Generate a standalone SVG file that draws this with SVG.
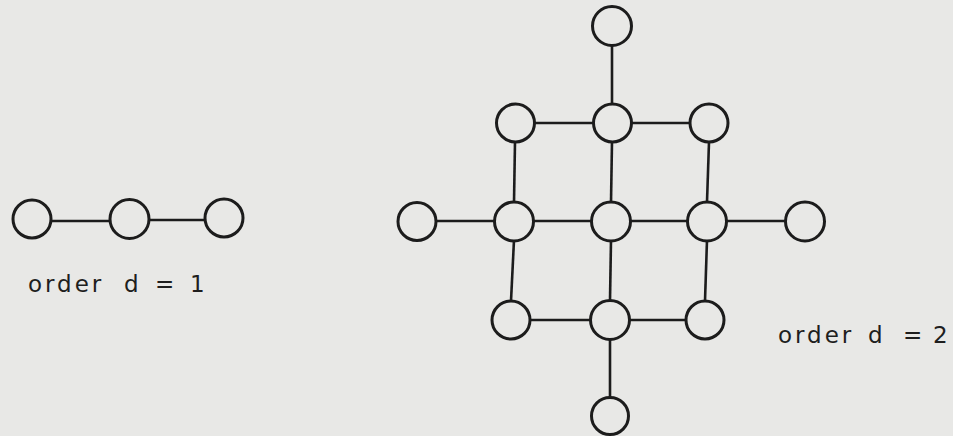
<svg xmlns="http://www.w3.org/2000/svg" width="953" height="436" viewBox="0 0 953 436">
<style>
.n{fill:none;stroke:#1c1c1c;stroke-width:3}
.e{stroke:#1c1c1c;stroke-width:2.6;fill:none}
.t{font-family:"DejaVu Sans",sans-serif;font-size:23px;fill:#1e1e1e;letter-spacing:3px}
</style>
<rect width="953" height="436" fill="#e8e8e6"/>
<g id="connectors">
<line class="e" x1="51" y1="221" x2="110" y2="221"/>
<line class="e" x1="149" y1="220" x2="205" y2="220"/>
<line class="e" x1="612" y1="45" x2="612" y2="104"/>
<line class="e" x1="612" y1="142" x2="611" y2="202"/>
<line class="e" x1="611" y1="240" x2="610" y2="301"/>
<line class="e" x1="610" y1="339" x2="610" y2="397"/>
<line class="e" x1="515" y1="142" x2="514" y2="202"/>
<line class="e" x1="514" y1="240" x2="511" y2="301"/>
<line class="e" x1="709" y1="142" x2="707" y2="202"/>
<line class="e" x1="707" y1="240" x2="705" y2="301"/>
<line class="e" x1="534" y1="123" x2="593" y2="123"/>
<line class="e" x1="631" y1="123" x2="690" y2="123"/>
<line class="e" x1="436" y1="221" x2="495" y2="221"/>
<line class="e" x1="533" y1="221" x2="592" y2="221"/>
<line class="e" x1="630" y1="221" x2="688" y2="221"/>
<line class="e" x1="726" y1="221" x2="786" y2="221"/>
<line class="e" x1="530" y1="320" x2="591" y2="320"/>
<line class="e" x1="629" y1="320" x2="686" y2="320"/>
</g>
<g id="d1-a"><circle class="n" cx="32" cy="219" r="19"/></g>
<g id="d1-b"><circle class="n" cx="129.5" cy="219" r="19.5"/></g>
<g id="d1-c"><circle class="n" cx="224" cy="218" r="19"/></g>
<g id="d2-top"><circle class="n" cx="612" cy="26" r="19.5"/></g>
<g id="d2-r2c2"><circle class="n" cx="515.5" cy="123" r="19"/></g>
<g id="d2-r2c3"><circle class="n" cx="612.5" cy="123" r="19"/></g>
<g id="d2-r2c4"><circle class="n" cx="709" cy="123" r="19"/></g>
<g id="d2-r3c1"><circle class="n" cx="417" cy="221.5" r="19"/></g>
<g id="d2-r3c2"><circle class="n" cx="514" cy="221.5" r="19.5"/></g>
<g id="d2-r3c3"><circle class="n" cx="611" cy="221.5" r="19.5"/></g>
<g id="d2-r3c4"><circle class="n" cx="707" cy="221.5" r="19.5"/></g>
<g id="d2-r3c5"><circle class="n" cx="805" cy="221.5" r="19.5"/></g>
<g id="d2-r4c2"><circle class="n" cx="511" cy="320" r="19"/></g>
<g id="d2-r4c3"><circle class="n" cx="610" cy="320" r="19.5"/></g>
<g id="d2-r4c4"><circle class="n" cx="705" cy="320" r="19"/></g>
<g id="d2-bottom"><circle class="n" cx="610" cy="416" r="18.5"/></g>
<g id="label-1"><text class="t" y="292"><tspan x="28">order</tspan><tspan x="124">d</tspan><tspan x="155">=</tspan><tspan x="190">1</tspan></text></g>
<g id="label-2"><text class="t" y="343"><tspan x="778">order</tspan><tspan x="868">d</tspan><tspan x="903">=</tspan><tspan x="933">2</tspan></text></g>
</svg>
